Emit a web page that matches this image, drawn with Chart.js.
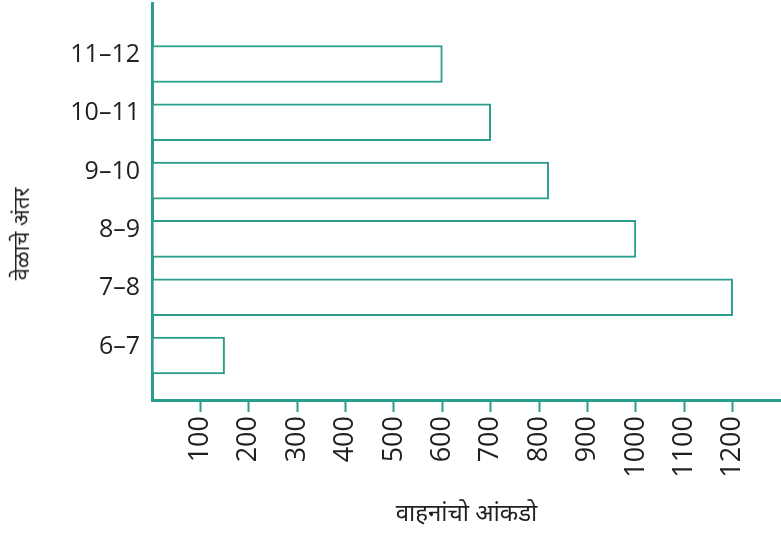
<!DOCTYPE html>
<html>
<head>
<meta charset="utf-8">
<script src="https://cdn.jsdelivr.net/npm/chart.js@4"></script>
<style>
  html, body { margin: 0; padding: 0; background: #fff; }
  #wrap { position: relative; width: 781px; height: 533px; }
  #yTitle {
    position: absolute; left: 20px; top: 234px;
    transform: translate(-50%, -50%) rotate(-90deg);
    font-family: "Noto Sans", "Open Sans", sans-serif; font-size: 22px;
    color: #231f20; white-space: nowrap;
  }
</style>
</head>
<body>
<div id="wrap">
  <canvas id="chart"></canvas>
  <div id="yTitle">वेळाचे अंतर</div>
</div>
<script>
// Data (bottom to top)
const categories = ['6–7', '7–8', '8–9', '9–10', '10–11', '11–12'];
const vehicles = [150, 1200, 1000, 820, 700, 600];
const xTicks = [100, 200, 300, 400, 500, 600, 700, 800, 900, 1000, 1100, 1200];
const xTitle = 'वाहनांचो आंकडो';

const teal = '#2a9d8c';
const ink = '#231f20';
const fam = '"Open Sans", "Noto Sans", sans-serif';

const points = categories.map((c, i) => ({ x: vehicles[i], y: i + 1 }));

new Chart(document.getElementById('chart'), {
  type: 'bar',
  data: {
    datasets: [{
      data: points,
      backgroundColor: '#ffffff',
      borderColor: teal,
      borderWidth: 2,
      borderSkipped: false,
      barThickness: 37
    }]
  },
  options: {
    indexAxis: 'y',
    responsive: true,
    maintainAspectRatio: false,
    animation: false,
    layout: { padding: { top: 3, right: 0, left: 0, bottom: 0 } },
    plugins: {
      legend: { display: false },
      tooltip: { enabled: false }
    },
    scales: {
      x: {
        type: 'linear',
        min: 0,
        max: 1300,
        offset: false,
        afterBuildTicks: s => { s.ticks = xTicks.map(v => ({ value: v })); },
        afterFit: s => { s.height = 133; s.paddingLeft = 0; s.paddingRight = 0; },
        border: { display: true, color: teal, width: 3 },
        grid: { drawOnChartArea: false, drawTicks: true, tickLength: 12, color: teal, tickWidth: 2 },
        ticks: {
          color: ink, font: { family: fam, size: 27 }, minRotation: 90, maxRotation: 90, padding: 4,
          autoSkip: false,
          callback: v => String(v)
        },
        title: {
          display: true, text: xTitle, color: ink,
          font: { family: '"Noto Sans", "Open Sans", sans-serif', size: 24 },
          padding: { top: 6, bottom: 4 }
        }
      },
      y: {
        type: 'linear',
        min: 0.237,
        max: 7.046,
        offset: false,
        afterBuildTicks: s => { s.ticks = categories.map((c, i) => ({ value: i + 1 })); },
        afterFit: s => { s.width = 152; s.paddingTop = 0; s.paddingBottom = 0; },
        border: { display: true, color: teal, width: 3 },
        grid: { display: false, offset: false },
        ticks: {
          color: ink, font: { family: fam, size: 25 }, padding: 4, labelOffset: -9,
          autoSkip: false,
          callback: v => categories[v - 1] || ''
        }
      }
    }
  }
});
</script>
</body>
</html>
